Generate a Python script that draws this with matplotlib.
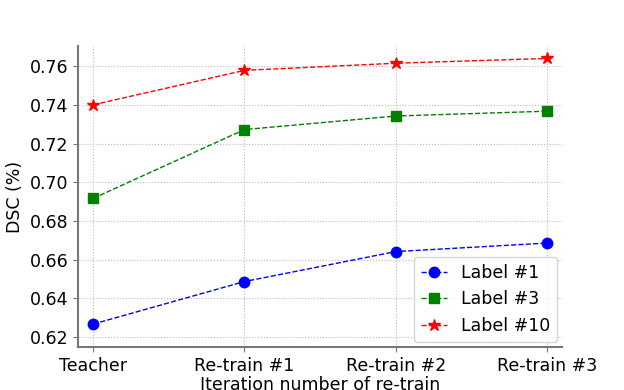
import matplotlib
matplotlib.use("Agg")
import matplotlib.pyplot as plt

stages = ["Teacher", "Re-train #1", "Re-train #2", "Re-train #3"]
label1 = [0.6267, 0.6487, 0.6642, 0.6686]
label3 = [0.6917, 0.7273, 0.7343, 0.7368]
label10 = [0.7401, 0.7579, 0.7616, 0.7641]

fig = plt.figure(figsize=(6.24, 3.9), dpi=100)
ax = fig.add_axes([0.125, 0.110, 0.776, 0.772])

x = range(len(stages))
ax.plot(x, label1, "b--o", lw=1, ms=7.5, label="Label #1")
ax.plot(x, label3, "g--s", lw=1, ms=7.5, label="Label #3")
ax.plot(x, label10, "r--*", lw=1, ms=9, label="Label #10")

fs = 12.5
ax.set_xticks(list(x))
ax.set_xticklabels(stages, fontsize=fs)
ax.tick_params(axis="y", labelsize=fs)
ax.set_xlim(-0.1, 3.1)
ax.set_ylim(0.6148, 0.7705)
ax.set_xlabel("Iteration number of re-train", fontsize=fs, labelpad=1)
ax.set_ylabel("DSC (%)", fontsize=fs)
ax.grid(True, linestyle=":", color="#bbbbbb")
for s in ["top", "right"]:
    ax.spines[s].set_visible(False)
for s in ["left", "bottom"]:
    ax.spines[s].set_color("#777777")
    ax.spines[s].set_linewidth(1.5)
ax.tick_params(color="#777777")
ax.legend(loc="lower right", fontsize=fs, handlelength=1.5, borderaxespad=0.3)

fig.savefig("out.png", dpi=100)
